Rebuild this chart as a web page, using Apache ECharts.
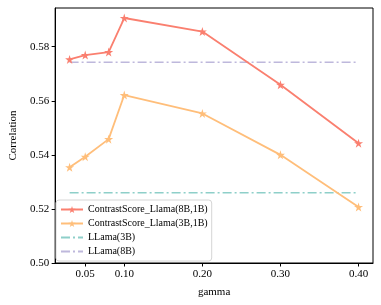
<!DOCTYPE html>
<html><head><meta charset="utf-8">
<script src="https://cdn.jsdelivr.net/npm/echarts@6/dist/echarts.min.js"></script>
<style>html,body{margin:0;padding:0;background:#fff}#c{width:381px;height:305px}</style>
</head><body><div id="c"></div>
<script>
const gammas = [0.03, 0.05, 0.08, 0.10, 0.20, 0.30, 0.40];
const cs8b1b = [0.5753, 0.5769, 0.5780, 0.5906, 0.5856, 0.5659, 0.5443];
const cs3b1b = [0.5354, 0.5393, 0.5458, 0.5621, 0.5553, 0.5400, 0.5207];
const llama3bValue = 0.5260;
const llama8bValue = 0.5742;
const xTicks = [0.05, 0.10, 0.20, 0.30, 0.40];
const yTicks = [0.50, 0.52, 0.54, 0.56, 0.58];
const seriesNames = ['ContrastScore_Llama(8B,1B)', 'ContrastScore_Llama(3B,1B)', 'LLama(3B)', 'LLama(8B)'];

const FONT = "'Liberation Serif','DejaVu Serif',serif";
const star = 'path://M50 0 L61.17 34.63 L97.55 34.55 L68.07 55.87 L79.39 90.45 L50 69 L20.61 90.45 L31.93 55.87 L2.45 34.55 L38.83 34.63 Z';
const pairs = (xs, ys) => xs.map((x, i) => [x, ys[i]]);
const xEnds = [gammas[0], gammas[gammas.length - 1]];

const chart = echarts.init(document.getElementById('c'), null, {renderer: 'canvas'});
chart.setOption({
  animation: false,
  backgroundColor: '#fff',
  textStyle: {fontFamily: FONT},
  grid: {left: 51, right: 8, top: 8, bottom: 42, show: true, borderColor: '#000', borderWidth: 1, backgroundColor: 'transparent'},
  legend: {
    orient: 'vertical', left: 56, top: 200,
    data: [
      {name: seriesNames[0]},
      {name: seriesNames[1]},
      {name: seriesNames[2], itemStyle: {opacity: 0}},
      {name: seriesNames[3], itemStyle: {opacity: 0}}
    ],
    itemWidth: 22, itemHeight: 9, itemGap: 3,
    padding: [4, 4, 4, 4],
    backgroundColor: '#fff', borderColor: '#d6d6d6', borderWidth: 1, borderRadius: 3,
    textStyle: {fontFamily: FONT, fontSize: 10, color: '#000', lineHeight: 11}
  },
  xAxis: {
    type: 'value', min: 0.0115, max: 0.4185,
    name: 'gamma', nameLocation: 'middle', nameGap: 24,
    nameTextStyle: {fontFamily: FONT, fontSize: 11, color: '#000'},
    axisLine: {show: true, lineStyle: {color: '#000', width: 1}},
    axisTick: {show: true, inside: false, length: 3.5, customValues: xTicks, lineStyle: {color: '#000'}},
    axisLabel: {customValues: xTicks, fontFamily: FONT, fontSize: 11, color: '#000', margin: 6,
      formatter: v => v.toFixed(2)},
    splitLine: {show: false}
  },
  yAxis: {
    type: 'value', min: 0.50, max: 0.5943,
    name: 'Correlation', nameLocation: 'middle', nameGap: 35,
    nameTextStyle: {fontFamily: FONT, fontSize: 11, color: '#000'},
    axisLine: {show: true, lineStyle: {color: '#000', width: 1}},
    axisTick: {show: true, inside: false, length: 3.5, customValues: yTicks, lineStyle: {color: '#000'}},
    axisLabel: {customValues: yTicks, fontFamily: FONT, fontSize: 11, color: '#000', margin: 6,
      formatter: v => v.toFixed(2)},
    splitLine: {show: false}
  },
  series: [
    {name: seriesNames[0], type: 'line', data: pairs(gammas, cs8b1b), color: '#FA7F6F',
     symbol: star, symbolSize: 9, lineStyle: {width: 1.8}, z: 4},
    {name: seriesNames[1], type: 'line', data: pairs(gammas, cs3b1b), color: '#FFBE7A',
     symbol: star, symbolSize: 9, lineStyle: {width: 1.8}, z: 4},
    {name: seriesNames[2], type: 'line', data: pairs(xEnds, [llama3bValue, llama3bValue]), color: '#8ECFC9',
     symbol: 'none', lineStyle: {width: 1.5, type: [9, 3, 2, 3]}, z: 3},
    {name: seriesNames[3], type: 'line', data: pairs(xEnds, [llama8bValue, llama8bValue]), color: '#BEB8DC',
     symbol: 'none', lineStyle: {width: 1.5, type: [9, 3, 2, 3]}, z: 3}
  ]
});
</script></body></html>
